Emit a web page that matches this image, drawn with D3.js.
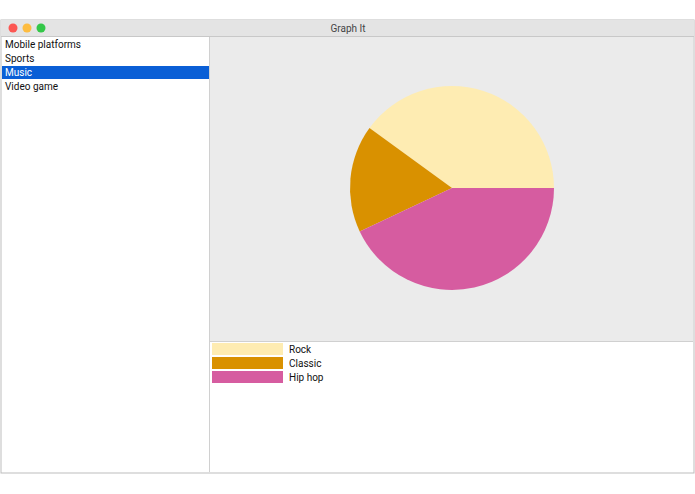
<!DOCTYPE html>
<html><head><meta charset="utf-8">
<script src="https://cdn.jsdelivr.net/npm/d3@7"></script>
<style>body{margin:0;background:#fff}svg{display:block}text{font-family:"Helvetica Neue",Roboto,"Liberation Sans",sans-serif}</style>
</head><body><svg id="c"></svg>
<script>
const topics = ["Mobile platforms", "Sports", "Music", "Video game"];
const selected = "Music";
const genres = ["Rock", "Classic", "Hip hop"];
const shares = [40, 17, 43];
const colors = ["#feecb2", "#d99100", "#d65ca0"];

const W = 695, H = 494;
const svg = d3.select("#c").attr("width", W).attr("height", H);

// window frame
svg.append("rect").attr("x", 1).attr("y", 20).attr("width", 693).attr("height", 453)
  .attr("fill", "#fff").attr("stroke", "#bdbdbd");
const tb = d3.linearGradient ? null : null;
svg.append("rect").attr("x", 1).attr("y", 20).attr("width", 693).attr("height", 16).attr("fill", "#e4e4e4");
svg.append("line").attr("x1", 1).attr("x2", 694).attr("y1", 36.5).attr("y2", 36.5).attr("stroke", "#c8c8c8");
[["#fc5753", 13], ["#fdbc40", 27], ["#33c748", 41]].forEach(([c, x]) =>
  svg.append("circle").attr("cx", x).attr("cy", 28).attr("r", 4.5).attr("fill", c));
svg.append("text").attr("x", 348).attr("y", 32).attr("text-anchor", "middle")
  .attr("font-size", 10).attr("fill", "#444").text("Graph It");

// list
const y = d3.scaleBand().domain(topics).range([37, 37 + 14 * topics.length]);
svg.selectAll(".sel").data(topics.filter(t => t === selected)).join("rect")
  .attr("x", 2).attr("y", d => y(d) + 1).attr("width", 207).attr("height", y.bandwidth() - 1).attr("fill", "#0a5fd6");
svg.selectAll(".it").data(topics).join("text")
  .attr("x", 5).attr("y", d => y(d) + 11).attr("font-size", 10)
  .attr("fill", d => d === selected ? "#fff" : "#111").text(d => d);
svg.append("line").attr("x1", 209.5).attr("x2", 209.5).attr("y1", 37).attr("y2", 472).attr("stroke", "#d0d0d0");

// chart area
svg.append("rect").attr("x", 210).attr("y", 37).attr("width", 483).attr("height", 304).attr("fill", "#ebebeb");
svg.append("line").attr("x1", 210).attr("x2", 693).attr("y1", 341.5).attr("y2", 341.5).attr("stroke", "#d0d0d0");

const pie = d3.pie().sort(null).startAngle(Math.PI / 2).endAngle(Math.PI / 2 - 2 * Math.PI);
const arc = d3.arc().innerRadius(0).outerRadius(102);
svg.append("g").attr("transform", "translate(452,188)")
  .selectAll("path").data(pie(shares)).join("path")
  .attr("d", arc).attr("fill", (d, i) => colors[i]);

// legend
const ly = d3.scaleBand().domain(genres).range([342, 342 + 14 * genres.length]);
const lg = svg.selectAll(".lg").data(genres).join("g");
lg.append("rect").attr("x", 212).attr("y", d => ly(d) + 1).attr("width", 71).attr("height", 12)
  .attr("fill", (d, i) => colors[i]);
lg.append("text").attr("x", 289).attr("y", d => ly(d) + 11).attr("font-size", 10).attr("fill", "#111").text(d => d);
</script></body></html>
